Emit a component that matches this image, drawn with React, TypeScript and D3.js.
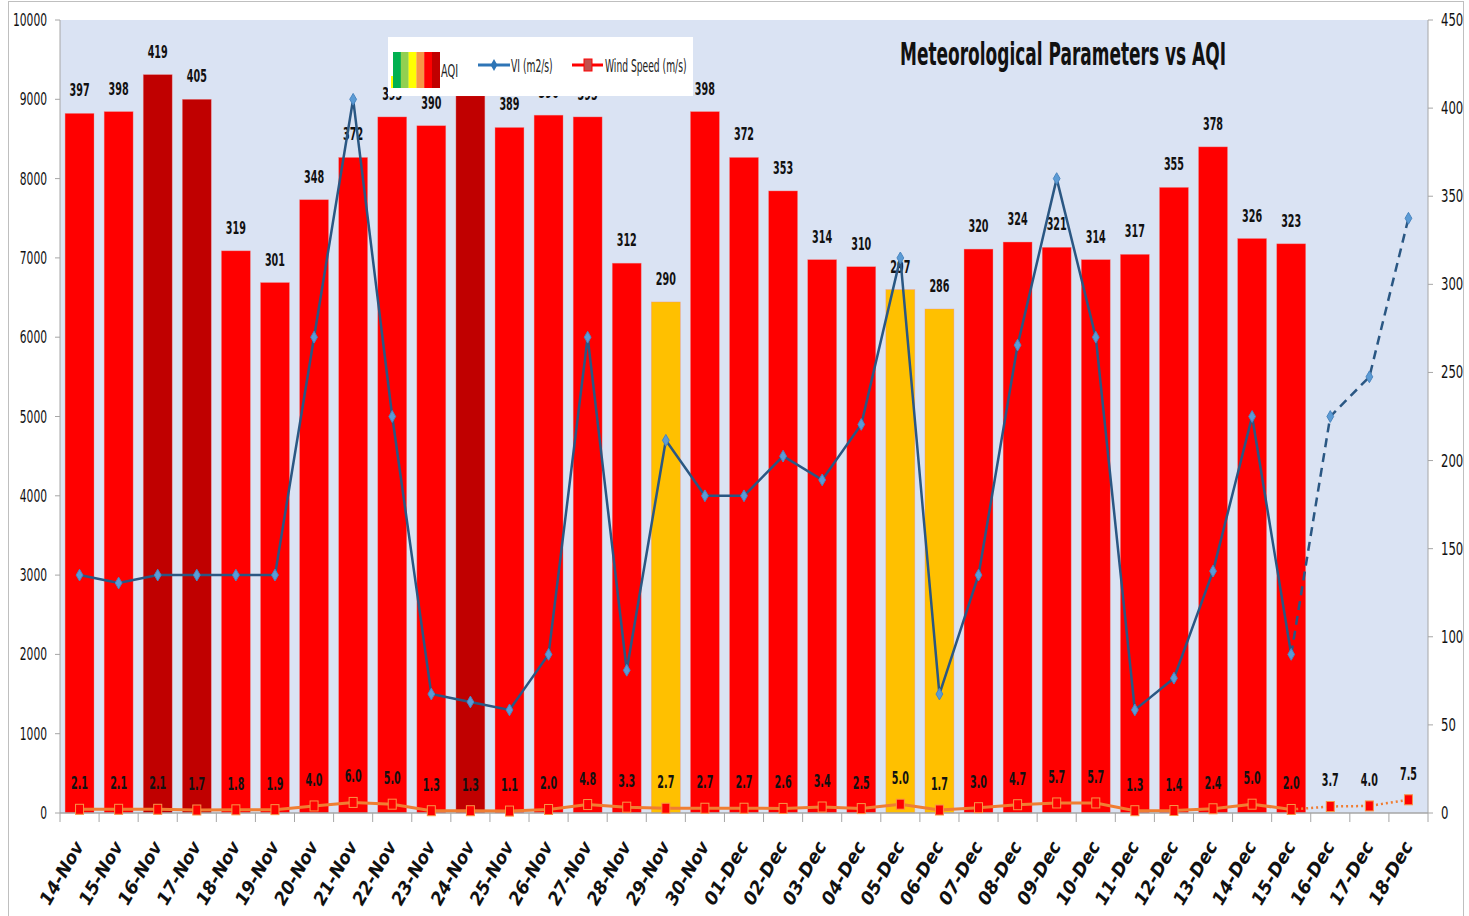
import React from "react";
import * as d3 from "d3";

const dates = [
	"14-Nov", "15-Nov", "16-Nov", "17-Nov", "18-Nov", "19-Nov", "20-Nov", "21-Nov", "22-Nov",
	"23-Nov", "24-Nov", "25-Nov", "26-Nov", "27-Nov", "28-Nov", "29-Nov", "30-Nov",
	"01-Dec", "02-Dec", "03-Dec", "04-Dec", "05-Dec", "06-Dec", "07-Dec", "08-Dec", "09-Dec",
	"10-Dec", "11-Dec", "12-Dec", "13-Dec", "14-Dec", "15-Dec", "16-Dec", "17-Dec", "18-Dec",
];

// AQI observed (14-Nov .. 15-Dec)
const aqi = [
	397, 398, 419, 405, 319, 301, 348, 372, 395, 390, 407, 389, 396, 395, 312, 290, 398,
	372, 353, 314, 310, 297, 286, 320, 324, 321, 314, 317, 355, 378, 326, 323,
];
// ventilation index, observed then forecast
const vi = [
	3000, 2900, 3000, 3000, 3000, 3000, 6000, 9000, 5000, 1500, 1400, 1300, 2000, 6000, 1800, 4700, 4000,
	4000, 4500, 4200, 4900, 7000, 1500, 3000, 5900, 8000, 6000, 1300, 1700, 3050, 5000, 2000,
];
const viForecast = [5000, 5500, 7500];
const wind = [
	2.1, 2.1, 2.1, 1.7, 1.8, 1.9, 4.0, 6.0, 5.0, 1.3, 1.3, 1.1, 2.0, 4.8, 3.3, 2.7, 2.7,
	2.7, 2.6, 3.4, 2.5, 5.0, 1.7, 3.0, 4.7, 5.7, 5.7, 1.3, 1.4, 2.4, 5.0, 2.0,
];
const windForecast = [3.7, 4.0, 7.5];

const leftTicks = d3.range(0, 10001, 1000);
const rightTicks = d3.range(0, 451, 50);

const FONT = "'DejaVu Sans Condensed','Liberation Sans Narrow',sans-serif";

const aqiColor = (v: number) => (v > 400 ? "#C00000" : v < 300 ? "#FFC000" : "#FF0000");

// squeeze text to roughly the narrow width of the original font
const fit = (s: string, perChar: number) =>
	Array.from(s).reduce((a, c) => a + (c === "." ? perChar * 0.45 : c === "-" ? perChar * 0.7 : perChar), 0);

const App: React.FC = () => {
	const W = 1469;
	const H = 916;
	const left = 60, right = 1428, top = 20, bottom = 813;

	const x = d3.scaleBand().domain(dates).range([left, right]).paddingInner(0.26).paddingOuter(0.13);
	const yL = d3.scaleLinear().domain([0, 10000]).range([bottom, top]);
	const yR = d3.scaleLinear().domain([0, 450]).range([bottom, top]);
	const cx = (i: number) => x(dates[i])! + x.bandwidth() / 2;
	const step = x.step();

	const viPts: [number, number][] = vi.map((v, i) => [cx(i), yL(v)]);
	const viFc: [number, number][] = [viPts[viPts.length - 1], ...viForecast.map((v, j) => [cx(vi.length + j), yL(v)] as [number, number])];
	const wPts: [number, number][] = wind.map((v, i) => [cx(i), yR(v)]);
	const wFc: [number, number][] = [wPts[wPts.length - 1], ...windForecast.map((v, j) => [cx(wind.length + j), yR(v)] as [number, number])];
	const line = d3.line();

	const diamond = d3.symbol().type(d3.symbolDiamond).size(40)();
	const allWind = [...wind, ...windForecast];

	return (
		<svg width={W} height={H} style={{ position: "absolute", left: 0, top: 0, fontFamily: FONT }}>
			<rect x={0} y={0} width={W} height={H} fill="#fff" />
			<rect x={8.5} y={1.5} width={1455} height={920} fill="none" stroke="#BFBFBF" />
			<rect x={left} y={top} width={right - left} height={bottom - top} fill="#DAE3F3" />

			{/* bars */}
			{aqi.map((v, i) => (
				<rect key={"b" + i} x={x(dates[i])} y={yR(v)} width={x.bandwidth()} height={bottom - yR(v)}
					fill={aqiColor(v)} stroke="#F08C8C" strokeWidth={0.6} strokeOpacity={0.6} />
			))}
			{aqi.map((v, i) => (
				<text key={"bl" + i} x={cx(i)} y={yR(v) - 17} textAnchor="middle" fontSize={17} fontWeight="bold" fill="#111"
					textLength={fit(String(v), 6.7)} lengthAdjust="spacingAndGlyphs">
					{v}
				</text>
			))}

			{/* axes */}
			<line x1={left} x2={left} y1={top} y2={bottom} stroke="#A6A6A6" />
			<line x1={right} x2={right} y1={top} y2={bottom} stroke="#A6A6A6" />
			<line x1={left} x2={right} y1={bottom} y2={bottom} stroke="#A6A6A6" strokeWidth={1.5} />
			{leftTicks.map((t) => (
				<g key={"lt" + t}>
					<line x1={left - 5} x2={left} y1={yL(t)} y2={yL(t)} stroke="#A6A6A6" />
					<text x={47} y={yL(t) + 6} textAnchor="end" fontSize={18} fill="#111"
						textLength={fit(String(t), 6.8)} lengthAdjust="spacingAndGlyphs">{t}</text>
				</g>
			))}
			{rightTicks.map((t) => (
				<g key={"rt" + t}>
					<line x1={right} x2={right + 5} y1={yR(t)} y2={yR(t)} stroke="#A6A6A6" />
					<text transform={`translate(1441,${yR(t) + 6}) scale(0.72,1)`} fontSize={18} fill="#111">{t}</text>
				</g>
			))}
			{d3.range(dates.length + 1).map((i) => (
				<line key={"xt" + i} x1={left + i * step} x2={left + i * step} y1={bottom} y2={bottom + 9} stroke="#A6A6A6" />
			))}
			{dates.map((d, i) => (
				<text key={"xl" + i} transform={`translate(${cx(i) + 5},${bottom + 33}) rotate(-60)`} textAnchor="end"
					fontSize={18} fontWeight="bold" fontStyle="italic" fill="#111"
					textLength={70} lengthAdjust="spacingAndGlyphs">
					{d}
				</text>
			))}

			{/* VI line */}
			<path d={line(viPts)!} fill="none" stroke="#2A5783" strokeWidth={2.5} />
			<path d={line(viFc)!} fill="none" stroke="#2A5783" strokeWidth={2.5} strokeDasharray="9,6" />
			{[...viPts, ...viFc.slice(1)].map((p, i) => (
				<path key={"vd" + i} d={diamond!} transform={`translate(${p[0]},${p[1]})`} fill="#5B9BD5" stroke="#4A86C0" />
			))}

			{/* wind line */}
			<path d={line(wPts)!} fill="none" stroke="#F07D32" strokeWidth={3} />
			<path d={line(wFc)!} fill="none" stroke="#F07D32" strokeWidth={2.5} strokeDasharray="2,3" />
			{[...wPts, ...wFc.slice(1)].map((p, i) => (
				<rect key={"wm" + i} x={p[0] - 4} y={p[1] - 5} width={8} height={10} fill="#FF0000" stroke="#F79646" strokeWidth={1} />
			))}
			{allWind.map((v, i) => (
				<text key={"wl" + i} x={cx(i)} y={yR(v) - 20} textAnchor="middle" fontSize={17} fontWeight="bold" fill="#111"
					textLength={17} lengthAdjust="spacingAndGlyphs">
					{v.toFixed(1)}
				</text>
			))}

			{/* legend */}
			<rect x={388} y={37} width={305} height={59} fill="#fff" />
			<rect x={391} y={76} width={6} height={12} fill="#FFFF00" />
			{["#00B050", "#92D050", "#FFFF00", "#F79646", "#FF0000", "#C00000"].map((c, i) => (
				<rect key={"sw" + i} x={393 + i * 7.8} y={52} width={8} height={36} fill={c} />
			))}
			<text transform="translate(441,77) scale(0.64,1)" fontSize={17} fill="#222">AQI</text>
			<line x1={478} x2={510} y1={65} y2={65} stroke="#2E75B6" strokeWidth={3} />
			<path d={diamond!} transform="translate(494,65)" fill="#2E75B6" />
			<text transform="translate(511,72) scale(0.6,1)" fontSize={17} fill="#222">VI (m2/s)</text>
			<line x1={572} x2={603} y1={65} y2={65} stroke="#FF0000" strokeWidth={3} />
			<rect x={584} y={59} width={8} height={12} fill="#C0504D" stroke="#FF0000" />
			<text transform="translate(605,72) scale(0.6,1)" fontSize={17} fill="#222">Wind Speed (m/s)</text>

			{/* title */}
			<text x={1063} y={65} textAnchor="middle" fontSize={32} fontWeight="bold" fill="#111" textLength={326} lengthAdjust="spacingAndGlyphs">
				Meteorological Parameters vs AQI
			</text>
		</svg>
	);
};

export default App;
